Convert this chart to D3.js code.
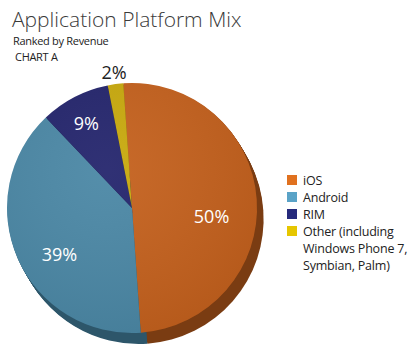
<!DOCTYPE html>
<html>
<head>
<meta charset="utf-8">
<script src="https://cdn.jsdelivr.net/npm/d3@7"></script>
<style>
  body { margin: 0; background: #fff; }
  text { font-family: "Open Sans", sans-serif; }
</style>
</head>
<body>
<div id="chart"></div>
<script>
// data
const platforms = ["iOS", "Android", "RIM", "Other"]
const shares = [50, 39, 9, 2]
const legendLines = [["iOS"], ["Android"], ["RIM"], ["Other (including", "Windows Phone 7,", "Symbian, Palm)"]]
const topColors = ["#c4601c", "#4a87a5", "#23246c", "#c8a90c"]
const sideColors = ["#7a3c12", "#2d566a", "#15163f", "#7a6608"]
const legendColors = ["#e0711f", "#5aa3c7", "#262a7c", "#e6c600"]

const width = 417, height = 354
const cx = 132, cy = 208, radius = 125

const svg = d3.select("#chart").append("svg")
    .attr("width", width)
    .attr("height", height)

// titles
svg.append("text")
    .attr("x", 12).attr("y", 27)
    .attr("fill", "#3a3a3a")
    .style("font-size", "21px")
    .style("font-weight", 300)
    .text("Application Platform Mix")

svg.append("text")
    .attr("x", 13).attr("y", 45)
    .attr("fill", "#222")
    .style("font-size", "11px")
    .style("letter-spacing", "-0.3px")
    .text("Ranked by Revenue")

svg.append("text")
    .attr("x", 15).attr("y", 61)
    .attr("fill", "#222")
    .style("font-size", "11px")
    .style("letter-spacing", "-0.3px")
    .text("CHART A")

// pie
const rows = platforms.map((p, i) => ({ name: p, value: shares[i], i }))
const startA = -4 * Math.PI / 180

const pie = d3.pie()
    .value(d => d.value)
    .sort(null)
    .startAngle(startA)
    .endAngle(startA + 2 * Math.PI)

const arcs = pie(rows)
const arc = d3.arc().innerRadius(0).outerRadius(radius)

const defs = svg.append("defs")
const grad = defs.append("radialGradient")
    .attr("id", "shine")
    .attr("cx", "40%").attr("cy", "35%").attr("r", "75%")
grad.append("stop").attr("offset", "0%").attr("stop-color", "#fff").attr("stop-opacity", 0.06)
grad.append("stop").attr("offset", "100%").attr("stop-color", "#000").attr("stop-opacity", 0.08)

// extruded side
const depth = d3.range(1, 12)
depth.forEach(k => {
    svg.append("g")
        .attr("transform", `translate(${cx + k * 0.6},${cy + k})`)
        .selectAll("path")
        .data(arcs).join("path")
        .attr("d", arc)
        .attr("fill", d => sideColors[d.data.i])
})

const topFace = svg.append("g").attr("transform", `translate(${cx},${cy})`)
topFace.selectAll("path.slice")
    .data(arcs).join("path")
    .attr("class", "slice")
    .attr("d", arc)
    .attr("fill", d => topColors[d.data.i])

topFace.append("circle")
    .attr("r", radius)
    .attr("fill", "url(#shine)")

// slice labels: radius factor, angle nudge (deg), colour
const labelPos = [
    { r: 0.64, nudge: 10, color: "#fff" },
    { r: 0.69, nudge: -9, color: "#fff" },
    { r: 0.77, nudge: -1, color: "#fff" },
    { r: 1.09, nudge: 0, color: "#222" }
]
topFace.selectAll("text.pct")
    .data(arcs).join("text")
    .attr("class", "pct")
    .attr("transform", d => {
        const p = labelPos[d.data.i]
        const a = (d.startAngle + d.endAngle) / 2 + p.nudge * Math.PI / 180
        const r = radius * p.r
        return `translate(${Math.sin(a) * r},${-Math.cos(a) * r})`
    })
    .attr("text-anchor", "middle")
    .attr("dy", "0.36em")
    .attr("fill", d => labelPos[d.data.i].color)
    .style("font-size", "18px")
    .style("font-weight", 500)
    .text(d => d.data.value + "%")

// legend
const legend = svg.append("g").attr("transform", "translate(287,175)")
const item = legend.selectAll("g")
    .data(rows).join("g")
    .attr("transform", d => `translate(0,${d.i * 17})`)

item.append("rect")
    .attr("width", 10).attr("height", 10)
    .attr("fill", d => legendColors[d.i])

item.append("text")
    .attr("x", 16).attr("y", 9.5)
    .attr("fill", "#222")
    .style("font-size", "12.5px")
    .style("letter-spacing", "-0.2px")
    .selectAll("tspan")
    .data(d => legendLines[d.i]).join("tspan")
    .attr("x", 16)
    .attr("dy", (d, j) => j === 0 ? 0 : 17)
    .text(d => d)
</script>
</body>
</html>
